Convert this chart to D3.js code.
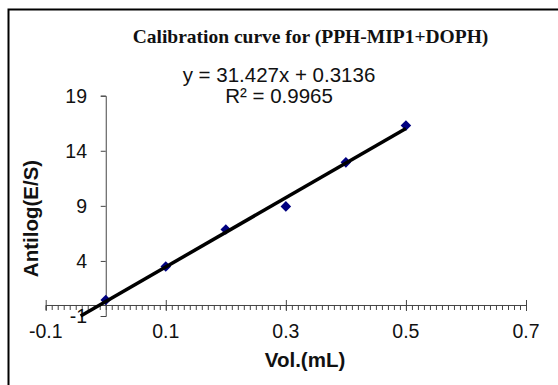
<!DOCTYPE html>
<html>
<head>
<meta charset="utf-8">
<script src="https://cdn.jsdelivr.net/npm/d3@7"></script>
<style>
  html, body { margin: 0; padding: 0; background: #fff; }
  svg { display: block; }
</style>
</head>
<body>
<svg id="chart" width="558" height="385"></svg>
<script>
// ---- data ----
const volumes = [0, 0.1, 0.2, 0.3, 0.4, 0.5];
const antilogValues = [0.45, 3.5, 6.85, 8.95, 12.95, 16.3];
const xTickValues = [-0.1, 0.1, 0.3, 0.5, 0.7];
const yTickValues = [-1, 4, 9, 14, 19];
const trendCoefficients = [31.427, 0.3136]; // slope, intercept
const equationLines = ["y = 31.427x + 0.3136", "R\u00B2 = 0.9965"];
const chartTitle = "Calibration curve for (PPH-MIP1+DOPH)";
const xAxisTitle = "Vol.(mL)";
const yAxisTitle = "Antilog(E/S)";

const svg = d3.select("#chart");

// outer frame
svg.append("rect")
  .attr("x", 8.5).attr("y", 9.5)
  .attr("width", 600).attr("height", 400)
  .attr("fill", "#fff").attr("stroke", "#000").attr("stroke-width", 2);

const x = d3.scaleLinear().domain([-0.1, 0.7]).range([45.7, 526]);
const y = d3.scaleLinear().domain([-1, 19]).range([316, 95.7]);

const axisColor = "#444";
const textColor = "#111";
const fmtTick = d => d3.format(".1f")(d).replace("\u2212", "-");

// x axis at y = 0, minor ticks
const xAxisY = y(0);
const minorTicks = d3.range(-10, 71).map(d => d / 100);
const gx = svg.append("g").attr("transform", `translate(0,${xAxisY})`);
gx.call(d3.axisBottom(x).tickValues(minorTicks).tickSize(5).tickFormat(""));
gx.call(g => g.selectAll("line").attr("stroke", axisColor));
gx.select(".domain").attr("stroke", axisColor);
// major ticks crossing
gx.selectAll(".major").data(xTickValues).join("line")
  .attr("class", "major")
  .attr("x1", d => x(d) + 0.5).attr("x2", d => x(d) + 0.5)
  .attr("y1", -5).attr("y2", 6)
  .attr("stroke", axisColor);

// x tick labels
svg.append("g").selectAll("text").data(xTickValues).join("text")
  .attr("x", d => x(d)).attr("y", 338)
  .attr("text-anchor", "middle")
  .attr("font-family", "Liberation Sans, Arial, sans-serif")
  .attr("font-size", 19.5)
  .attr("fill", textColor)
  .text(fmtTick);

// y axis at x = 0
const gy = svg.append("g").attr("transform", `translate(${x(0)},0)`);
gy.call(d3.axisLeft(y).tickValues(yTickValues).tickSize(5).tickFormat(""));
gy.selectAll("line").attr("stroke", axisColor);
gy.select(".domain").attr("stroke", axisColor);

svg.append("g").selectAll("text").data(yTickValues).join("text")
  .attr("x", 87).attr("y", d => y(d) + 7)
  .attr("text-anchor", "end")
  .attr("font-family", "Liberation Sans, Arial, sans-serif")
  .attr("font-size", 19.5)
  .attr("fill", textColor)
  .text(d => String(d));

// markers
svg.append("g").selectAll("path").data(volumes).join("path")
  .attr("transform", (d, i) => `translate(${x(d)},${y(antilogValues[i])}) rotate(45)`)
  .attr("d", d3.symbol().type(d3.symbolSquare).size(56))
  .attr("fill", "#000080");

// trendline from y = -1 to x = 0.5
const [slope, intercept] = trendCoefficients;
const xStart = (y.domain()[0] - intercept) / slope;
const xEnd = d3.max(volumes);
svg.append("line")
  .attr("x1", x(xStart)).attr("y1", y(slope * xStart + intercept))
  .attr("x2", x(xEnd)).attr("y2", y(slope * xEnd + intercept))
  .attr("stroke", "#000").attr("stroke-width", 3.5);

// title
svg.append("text")
  .attr("x", 310.5).attr("y", 43)
  .attr("text-anchor", "middle")
  .attr("font-family", "Liberation Serif, Times New Roman, serif")
  .attr("font-weight", "bold")
  .attr("font-size", 19.5)
  .attr("fill", textColor)
  .text(chartTitle);

// equation
svg.append("g").selectAll("text").data(equationLines).join("text")
  .attr("x", 279).attr("y", (d, i) => 82 + i * 21)
  .attr("text-anchor", "middle")
  .attr("font-family", "Liberation Sans, Arial, sans-serif")
  .attr("font-size", 20.5)
  .attr("fill", textColor)
  .text(d => d);

// axis titles
svg.append("text")
  .attr("x", 305).attr("y", 367)
  .attr("text-anchor", "middle")
  .attr("font-family", "Liberation Sans, Arial, sans-serif")
  .attr("font-weight", "bold")
  .attr("font-size", 20.5)
  .attr("fill", textColor)
  .text(xAxisTitle);

svg.append("text")
  .attr("transform", "translate(38,218.5) rotate(-90)")
  .attr("text-anchor", "middle")
  .attr("font-family", "Liberation Sans, Arial, sans-serif")
  .attr("font-weight", "bold")
  .attr("font-size", 20.5)
  .attr("fill", textColor)
  .text(yAxisTitle);
</script>
</body>
</html>
